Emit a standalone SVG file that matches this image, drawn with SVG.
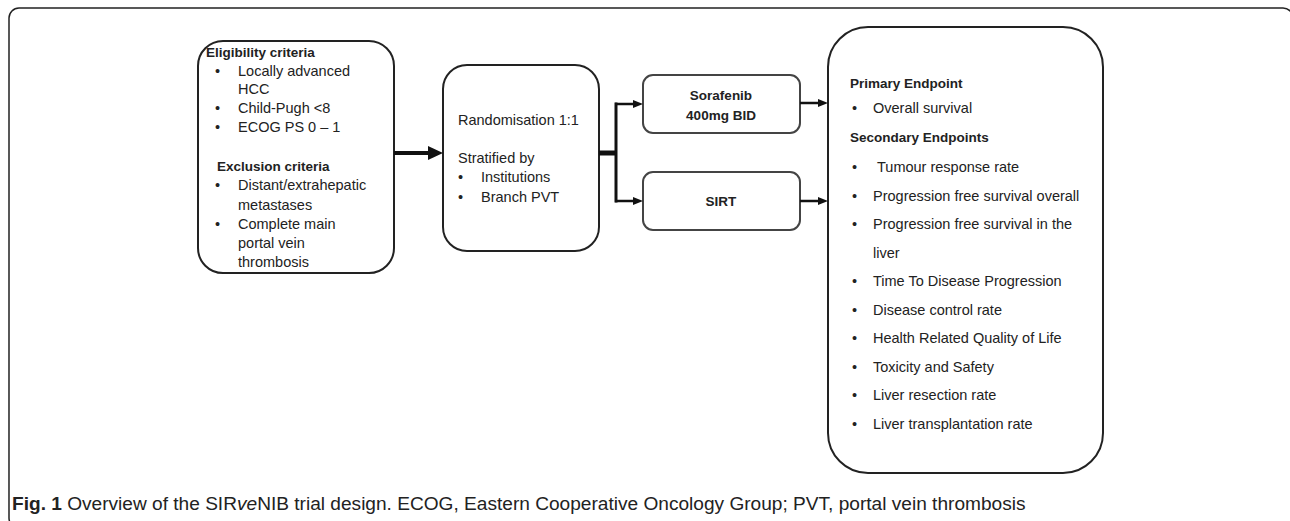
<svg xmlns="http://www.w3.org/2000/svg" width="1290" height="521" viewBox="0 0 1290 521">
<defs>
<style>
.box{fill:#fff;stroke:#222;stroke-width:2}
.tbox{fill:#fff;stroke:#444;stroke-width:2}
.t{font-family:"Liberation Sans",Arial,sans-serif;font-size:14.5px;fill:#222}
.b{font-family:"Liberation Sans",Arial,sans-serif;font-size:13.5px;font-weight:bold;fill:#222}
.c{font-family:"Liberation Sans",Arial,sans-serif;font-size:19.1px;fill:#222}
.ln{fill:none;stroke:#111}
</style>
<marker id="big" markerUnits="userSpaceOnUse" markerWidth="16" markerHeight="14" viewBox="0 0 16 14" refX="0" refY="7" orient="auto"><path d="M0,0 L15,7 L0,14 z" fill="#111"/></marker>
<marker id="sm" markerUnits="userSpaceOnUse" markerWidth="10" markerHeight="8" viewBox="0 0 10 8" refX="0" refY="4" orient="auto"><path d="M0,0 L10,4 L0,8 z" fill="#111"/></marker>
</defs>
<rect width="1290" height="521" fill="#fff"/>
<rect id="frame" x="9" y="8" width="1284" height="520" rx="10" fill="none" stroke="#222" stroke-width="1.5"/>

<g id="eligibility">
<rect class="box" x="198" y="41" width="196" height="232" rx="25"/>
<text class="b" x="206" y="57">Eligibility criteria</text>
<text class="t" x="215" y="76">•</text><text class="t" x="238" y="76">Locally advanced</text>
<text class="t" x="238" y="94">HCC</text>
<text class="t" x="215" y="113">•</text><text class="t" x="238" y="113">Child-Pugh &lt;8</text>
<text class="t" x="215" y="132">•</text><text class="t" x="238" y="132">ECOG PS 0 – 1</text>
<text class="b" x="217" y="171">Exclusion criteria</text>
<text class="t" x="215" y="190">•</text><text class="t" x="238" y="190">Distant/extrahepatic</text>
<text class="t" x="238" y="210">metastases</text>
<text class="t" x="215" y="229">•</text><text class="t" x="238" y="229">Complete main</text>
<text class="t" x="238" y="248">portal vein</text>
<text class="t" x="238" y="267">thrombosis</text>
</g>

<g id="randomisation">
<rect class="box" x="443" y="65" width="156" height="186" rx="24"/>
<text class="t" x="458" y="125">Randomisation 1:1</text>
<text class="t" x="458" y="163">Stratified by</text>
<text class="t" x="458" y="182">•</text><text class="t" x="481" y="182">Institutions</text>
<text class="t" x="458" y="202">•</text><text class="t" x="481" y="202">Branch PVT</text>
</g>

<g id="sorafenib">
<rect class="tbox" x="643" y="75" width="157" height="58" rx="10"/>
<text class="b" x="721" y="100" text-anchor="middle">Sorafenib</text>
<text class="b" x="721" y="120" text-anchor="middle">400mg BID</text>
</g>

<g id="sirt">
<rect class="tbox" x="643" y="172" width="157" height="58" rx="10"/>
<text class="b" x="721" y="206" text-anchor="middle">SIRT</text>
</g>

<g id="endpoints">
<rect class="box" x="828" y="27" width="275" height="446" rx="40"/>
<text class="b" x="850" y="88">Primary Endpoint</text>
<text class="t" x="852" y="113">•</text><text class="t" x="873" y="113">Overall survival</text>
<text class="b" x="850" y="142">Secondary Endpoints</text>
<text class="t" x="852" y="172">•</text><text class="t" x="877" y="172">Tumour response rate</text>
<text class="t" x="852" y="201">•</text><text class="t" x="873" y="201">Progression free survival overall</text>
<text class="t" x="852" y="229">•</text><text class="t" x="873" y="229">Progression free survival in the</text>
<text class="t" x="873" y="258">liver</text>
<text class="t" x="852" y="286">•</text><text class="t" x="873" y="286">Time To Disease Progression</text>
<text class="t" x="852" y="315">•</text><text class="t" x="873" y="315">Disease control rate</text>
<text class="t" x="852" y="343">•</text><text class="t" x="873" y="343">Health Related Quality of Life</text>
<text class="t" x="852" y="372">•</text><text class="t" x="873" y="372">Toxicity and Safety</text>
<text class="t" x="852" y="400">•</text><text class="t" x="873" y="400">Liver resection rate</text>
<text class="t" x="852" y="429">•</text><text class="t" x="873" y="429">Liver transplantation rate</text>
</g>

<g id="connectors">
<path class="ln" d="M394,153 L428,153" stroke-width="4" marker-end="url(#big)"/>
<path class="ln" d="M599,153 L617,153" stroke-width="5"/>
<path class="ln" d="M616,102.5 L616,202.5" stroke-width="3"/>
<path class="ln" d="M615,104 L633,104" stroke-width="2.5" marker-end="url(#sm)"/>
<path class="ln" d="M615,201 L633,201" stroke-width="2.5" marker-end="url(#sm)"/>
<path class="ln" d="M800,103 L818,103" stroke-width="2.5" marker-end="url(#sm)"/>
<path class="ln" d="M800,201 L818,201" stroke-width="2.5" marker-end="url(#sm)"/>
</g>

<text class="c" x="12" y="510"><tspan font-weight="bold">Fig. 1</tspan> Overview of the SIR<tspan font-style="italic">ve</tspan>NIB trial design. ECOG, Eastern Cooperative Oncology Group; PVT, portal vein thrombosis</text>
</svg>
